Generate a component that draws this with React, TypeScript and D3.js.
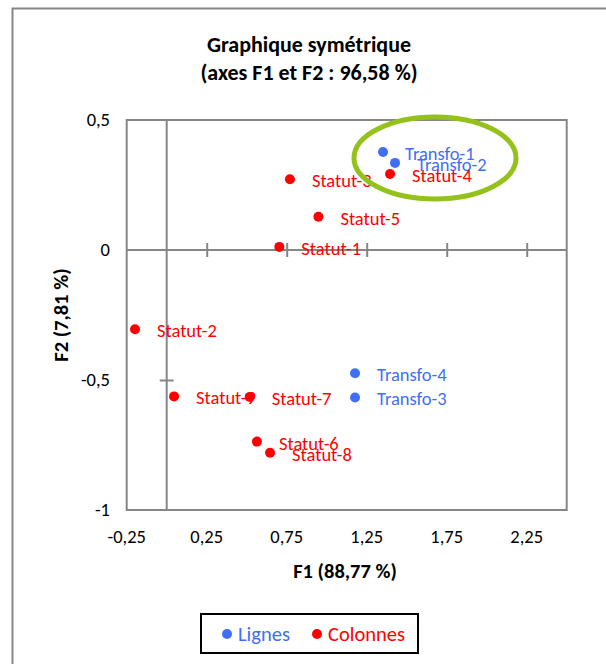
import React, { useEffect, useRef } from "react";
import * as d3 from "d3";

const lignesNames = ["Transfo-1", "Transfo-2", "Transfo-3", "Transfo-4"];
const lignesF1 = [1.352, 1.427, 1.177, 1.177];
const lignesF2 = [0.377, 0.335, -0.567, -0.474];

const colonnesNames = ["Statut-1", "Statut-2", "Statut-3", "Statut-4", "Statut-5", "Statut-6", "Statut-7", "Statut-8", "Statut-9"];
const colonnesF1 = [0.704, -0.198, 0.77, 1.396, 0.948, 0.564, 0.519, 0.646, 0.046];
const colonnesF2 = [0.012, -0.305, 0.272, 0.292, 0.128, -0.737, -0.565, -0.78, -0.563];

const xTicks = [-0.25, 0.25, 0.75, 1.25, 1.75, 2.25];
const yTicks = [0.5, 0, -0.5, -1];

const W = 606;
const H = 664;
const FONT = "Carlito, Lato, 'Open Sans', sans-serif";
const BLUE = "#3f6ff5";
const RED = "#ff0000";
const GRAY = "#868686";

export default function App() {
  const ref = useRef<SVGSVGElement>(null);

  useEffect(() => {
    const svg = d3.select(ref.current);
    svg.selectAll("*").remove();

    const x = d3.scaleLinear().domain([-0.25, 2.5]).range([126.7, 566.7]);
    const y = d3.scaleLinear().domain([-1, 0.5]).range([510, 120]);
    const fmt = (v: number) => d3.format("")(v).replace(".", ",").replace("−", "-");

    // outer chart border (left + top)
    svg.append("path").attr("d", `M12.5,${H} V8.5 H${W}`).attr("fill", "none").attr("stroke", GRAY).attr("stroke-width", 2);

    // title
    const title = svg.append("text").attr("text-anchor", "middle").attr("font-family", FONT).attr("font-weight", "bold").attr("font-size", 22).attr("fill", "#000");
    title.append("tspan").attr("x", 309).attr("y", 52).text("Graphique symétrique");
    title.append("tspan").attr("x", 309).attr("y", 80).text("(axes F1 et F2 : 96,58 %)");

    // plot area border
    svg.append("rect").attr("x", x(-0.25)).attr("y", y(0.5)).attr("width", x(2.5) - x(-0.25)).attr("height", y(-1) - y(0.5)).attr("fill", "none").attr("stroke", GRAY).attr("stroke-width", 2);

    // axes at zero
    const gx = svg.append("g").attr("transform", `translate(0,${y(0)})`).call(
      d3.axisBottom(x).tickValues(xTicks.filter((t) => t > -0.25)).tickSize(14).tickFormat(() => "")
    );
    gx.selectAll(".tick line").attr("transform", "translate(0,-7)");
    gx.select(".domain").remove();
    svg.append("line").attr("x1", x(-0.25)).attr("x2", x(2.5)).attr("y1", y(0)).attr("y2", y(0)).attr("stroke", GRAY).attr("stroke-width", 2);

    const gy = svg.append("g").attr("transform", `translate(${x(0)},0)`).call(
      d3.axisLeft(y).tickValues([-0.5]).tickSize(14).tickFormat(() => "")
    );
    gy.selectAll(".tick line").attr("transform", "translate(7,0)");
    gy.select(".domain").remove();
    svg.append("line").attr("x1", x(0)).attr("x2", x(0)).attr("y1", y(0.5)).attr("y2", y(-1)).attr("stroke", GRAY).attr("stroke-width", 2);
    svg.selectAll(".tick line").attr("stroke", GRAY).attr("stroke-width", 2);

    // tick labels
    svg.append("g").selectAll("text").data(xTicks).join("text")
      .attr("x", (d) => x(d)).attr("y", 543).attr("text-anchor", "middle")
      .attr("font-family", FONT).attr("font-size", 18.5).attr("fill", "#000")
      .text((d) => fmt(d));
    svg.append("g").selectAll("text").data(yTicks).join("text")
      .attr("x", 110).attr("y", (d) => y(d) + 6).attr("text-anchor", "end")
      .attr("font-family", FONT).attr("font-size", 18.5).attr("fill", "#000")
      .text((d) => fmt(d));

    // axis titles
    svg.append("text").attr("x", 345).attr("y", 578).attr("text-anchor", "middle")
      .attr("font-family", FONT).attr("font-weight", "bold").attr("font-size", 20.5).text("F1 (88,77 %)");
    svg.append("text").attr("transform", `translate(68,315) rotate(-90)`).attr("text-anchor", "middle")
      .attr("font-family", FONT).attr("font-weight", "bold").attr("font-size", 20.5).text("F2 (7,81 %)");

    // data
    const lignes = lignesNames.map((n, i) => ({ n, x: lignesF1[i], y: lignesF2[i] }));
    const colonnes = colonnesNames.map((n, i) => ({ n, x: colonnesF1[i], y: colonnesF2[i] }));

    const drawLabels = (data: any[], color: string) =>
      svg.append("g").selectAll("text").data(data).join("text")
        .attr("x", (d) => x(d.x) + 22).attr("y", (d) => y(d.y) + 8)
        .attr("font-family", FONT).attr("font-size", 18.5).attr("fill", color)
        .text((d) => d.n);
    const drawPoints = (data: any[], color: string) =>
      svg.append("g").selectAll("circle").data(data).join("circle")
        .attr("cx", (d) => x(d.x)).attr("cy", (d) => y(d.y)).attr("r", 5).attr("fill", color);

    drawLabels(lignes, BLUE);
    drawLabels(colonnes, RED);
    drawPoints(lignes, BLUE);
    drawPoints(colonnes, RED);

    // highlight ellipse
    svg.append("ellipse").attr("cx", 435).attr("cy", 158).attr("rx", 81).attr("ry", 41)
      .attr("fill", "none").attr("stroke", "#94c11c").attr("stroke-width", 5);

    // legend
    svg.append("rect").attr("x", 201).attr("y", 614).attr("width", 217).attr("height", 39)
      .attr("fill", "#fff").attr("stroke", "#000").attr("stroke-width", 2);
    const leg = [{ n: "Lignes", c: BLUE, x: 227 }, { n: "Colonnes", c: RED, x: 317 }];
    const lg = svg.append("g").selectAll("g").data(leg).join("g");
    lg.append("circle").attr("cx", (d) => d.x).attr("cy", 634).attr("r", 5).attr("fill", (d) => d.c);
    lg.append("text").attr("x", (d) => d.x + 11).attr("y", 641).attr("font-family", FONT).attr("font-size", 20.5)
      .attr("fill", (d) => d.c).text((d) => d.n);
  }, []);

  return <svg ref={ref} width={W} height={H} style={{ display: "block", position: "absolute", left: 0, top: 0 }} />;
}
